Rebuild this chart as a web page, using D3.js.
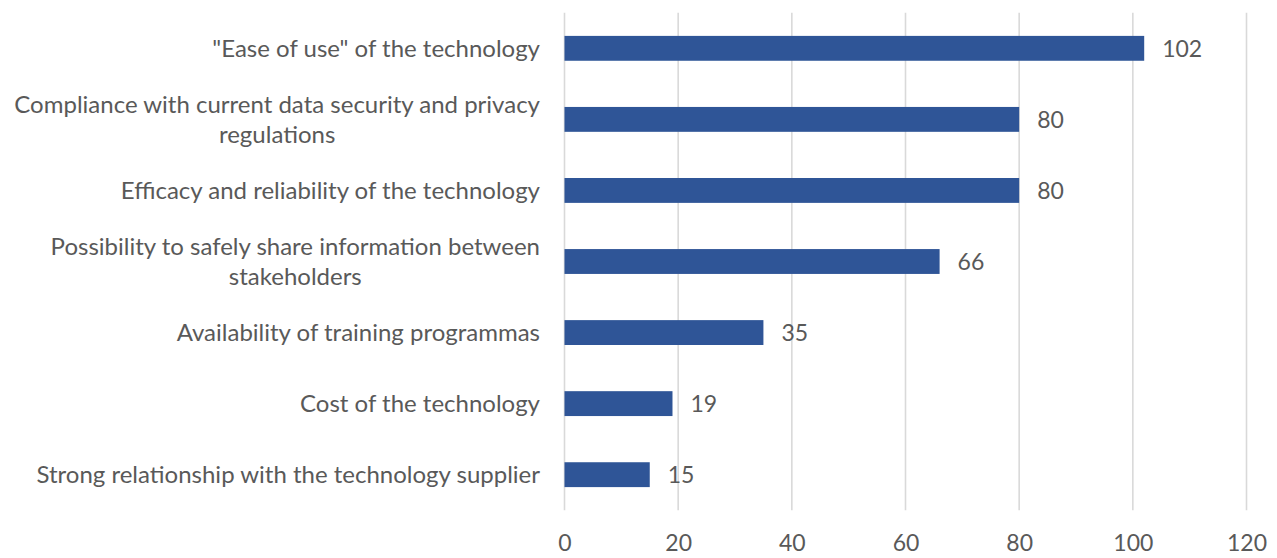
<!DOCTYPE html>
<html>
<head>
<meta charset="utf-8">
<script src="https://cdn.jsdelivr.net/npm/d3@7"></script>
<style>
  html, body { margin: 0; padding: 0; background: #ffffff; }
  svg { display: block; }
  text { font-family: Lato, "Open Sans", sans-serif; fill: #595959; }
</style>
</head>
<body>
<svg id="chart" width="1277" height="558"></svg>
<script>
// Factors, split into display lines
const categories = [
  ['"Ease of use" of the technology'],
  ['Compliance with current data security and privacy', 'regulations'],
  ['Efficacy and reliability of the technology'],
  ['Possibility to safely share information between', 'stakeholders'],
  ['Availability of training programmas'],
  ['Cost of the technology'],
  ['Strong relationship with the technology supplier']
];
const values = [102, 80, 80, 66, 35, 19, 15];
const xTicks = [0, 20, 40, 60, 80, 100, 120];

const svg = d3.select('#chart');
const margin = { left: 564.5, right: 30.5, top: 12.8, bottom: 47.8 };
const W = 1277, H = 558;
const labelSize = 24;
const numSize = 23;

const x = d3.scaleLinear().domain([0, 120]).range([margin.left, W - margin.right]);
const y = d3.scaleBand()
  .domain(d3.range(categories.length))
  .range([margin.top, H - margin.bottom])
  .paddingInner(0.65)
  .paddingOuter(0.325);

// Vertical gridlines
svg.append('g').selectAll('line').data(xTicks).join('line')
  .attr('x1', d => x(d)).attr('x2', d => x(d))
  .attr('y1', margin.top).attr('y2', H - margin.bottom)
  .attr('stroke', '#d9d9d9').attr('stroke-width', 1.6);

// Bars
svg.append('g').selectAll('rect').data(values).join('rect')
  .attr('x', x(0))
  .attr('y', (d, i) => y(i))
  .attr('width', d => x(d) - x(0))
  .attr('height', y.bandwidth())
  .attr('fill', '#2f5597');

// Value labels
svg.append('g').selectAll('text').data(values).join('text')
  .attr('x', d => x(d) + 18)
  .attr('y', (d, i) => y(i) + y.bandwidth() / 2)
  .attr('dy', '0.36em')
  .attr('font-size', numSize)
  .text(d => d);

// X axis labels
const xAxis = d3.axisBottom(x).tickValues(xTicks).tickSize(0).tickPadding(0);
const gx = svg.append('g').attr('transform', `translate(0, ${H - 7})`).call(xAxis);
gx.select('.domain').remove();
gx.selectAll('text')
  .attr('y', 0).attr('dy', '0em')
  .style('font-family', 'Lato, "Open Sans", sans-serif')
  .style('font-size', numSize + 'px')
  .style('fill', '#595959');

// Category labels: right-aligned block, lines centred within block
const labelRight = 540;
const lineH = 30;
const lg = svg.append('g');
categories.forEach((lines, i) => {
  const g = lg.append('g');
  const cy = y(i) + y.bandwidth() / 2;
  const texts = lines.map((ln, j) => g.append('text')
    .attr('font-size', labelSize)
    .attr('text-anchor', 'middle')
    .attr('y', cy + (j - (lines.length - 1) / 2) * lineH)
    .attr('dy', '0.35em')
    .text(ln));
  const w = d3.max(texts, t => t.node().getComputedTextLength());
  texts.forEach(t => t.attr('x', labelRight - w / 2));
});
</script>
</body>
</html>
